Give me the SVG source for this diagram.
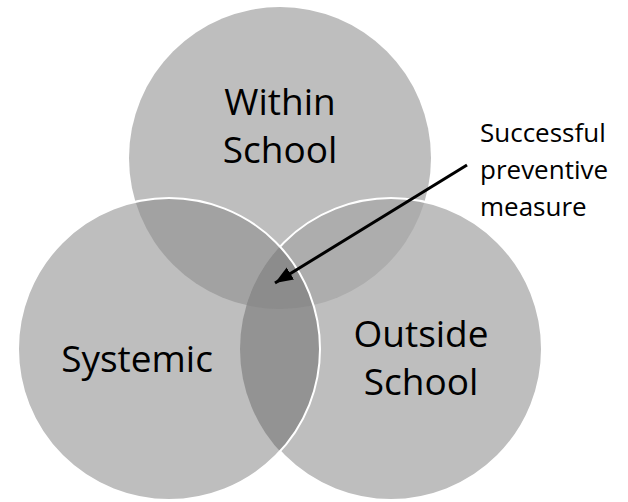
<svg xmlns="http://www.w3.org/2000/svg" width="628" height="502" viewBox="0 0 628 502">
<style>
.lbl{font-family:"Open Sans","Liberation Sans",sans-serif;font-size:37px;fill:#000;text-anchor:middle}
.call{font-family:"Open Sans","Liberation Sans",sans-serif;font-size:26px;fill:#000}
.base{fill:#bebebe}
.edge{fill:none;stroke:#fff;stroke-width:2}
</style>
<defs>
<circle id="cT" cx="280" cy="158" r="151"/>
<circle id="cL" cx="169" cy="349" r="151"/>
<circle id="cR" cx="391" cy="349" r="151"/>
<clipPath id="clipT"><use href="#cT"/></clipPath>
<clipPath id="clipL"><use href="#cL"/></clipPath>
<clipPath id="clipR"><use href="#cR"/></clipPath>
<mask id="notL"><rect width="628" height="502" fill="#fff"/><use href="#cL" fill="#000"/></mask>
<marker id="ah" markerUnits="userSpaceOnUse" markerWidth="20" markerHeight="16" refX="18" refY="8" orient="auto">
<path d="M0,1 L18,8 L0,15 Z" fill="#000"/>
</marker>
</defs>
<g id="venn">
<g id="within-school">
<use href="#cT" class="base"/>
</g>
<g id="outside-school">
<use href="#cR" class="base"/>
</g>
<g id="systemic">
<use href="#cL" class="base"/>
</g>
<g id="overlaps">
<g clip-path="url(#clipT)"><use href="#cL" fill="#a2a2a2"/></g>
<g clip-path="url(#clipT)"><use href="#cR" fill="#adadad"/></g>
<g clip-path="url(#clipL)"><use href="#cR" fill="#939393"/></g>
<g clip-path="url(#clipT)"><g clip-path="url(#clipL)"><use href="#cR" fill="#8c8c8c"/></g></g>
</g>
<g id="edges">
<use href="#cR" class="edge" mask="url(#notL)"/>
<use href="#cL" class="edge"/>
</g>
</g>
<g id="labels">
<text class="lbl" x="280" y="115">Within</text>
<text class="lbl" x="280" y="163">School</text>
<text class="lbl" x="137" y="372">Systemic</text>
<text class="lbl" x="421" y="347">Outside</text>
<text class="lbl" x="421" y="395">School</text>
</g>
<g id="callout">
<text class="call" x="480" y="142">Successful</text>
<text class="call" x="480" y="179">preventive</text>
<text class="call" x="480" y="216">measure</text>
</g>
<g id="connectors">
<line x1="467" y1="165" x2="275" y2="283" stroke="#000" stroke-width="3" marker-end="url(#ah)"/>
</g>
</svg>
